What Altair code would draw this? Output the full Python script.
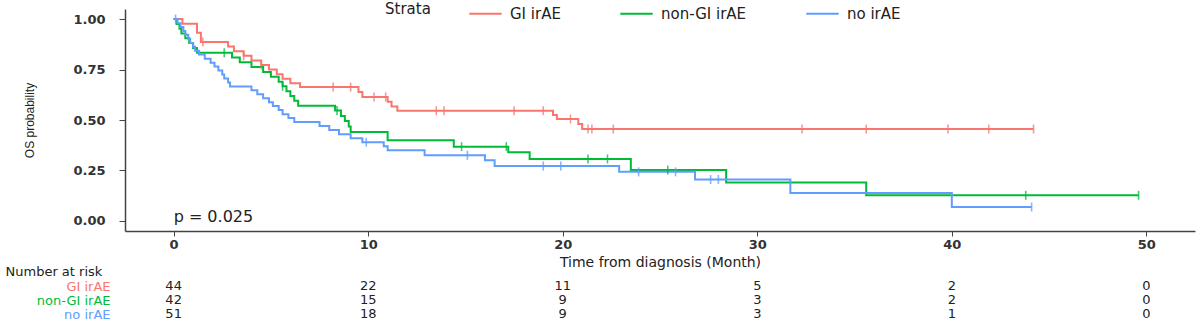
import altair as alt
import pandas as pd

strata = ["GI irAE", "non-GI irAE", "no irAE"]
colors = ["#F8766D", "#00BA38", "#619CFF"]

# Step curves (time in months, survival after that time)
gi_t = [0, 0.45, 1.2, 1.4, 2.8, 3.1, 3.6, 4.0, 4.5, 4.9, 5.3, 5.6, 6.0, 6.5, 9.5, 9.7,
        11.0, 11.2, 11.5, 19.5, 19.7, 20.8, 21.0, 44.2]
gi_s = [1.0, 0.977, 0.932, 0.886, 0.864, 0.841, 0.818, 0.795, 0.773, 0.75, 0.727, 0.705,
        0.682, 0.663, 0.639, 0.614, 0.59, 0.567, 0.546, 0.525, 0.505, 0.48, 0.455, 0.455]
gi_cens = [1.5, 3.6, 4.5, 8.2, 9.1, 10.3, 10.9, 13.5, 13.9, 17.5, 19.0, 20.4, 21.3, 21.5,
           22.6, 32.3, 35.6, 39.8, 41.9, 44.2]

non_t = [0, 0.15, 0.3, 0.4, 0.6, 0.8, 1.0, 1.2, 3.0, 3.4, 4.0, 4.6, 5.0, 5.4, 5.6, 5.8,
         6.0, 6.2, 6.4, 8.3, 8.6, 8.8, 9.0, 9.1, 11.0, 14.4, 17.2, 18.3, 23.5, 28.4, 35.6, 49.6]
non_s = [1.0, 0.976, 0.952, 0.929, 0.905, 0.881, 0.857, 0.833, 0.81, 0.786, 0.762, 0.738,
         0.714, 0.69, 0.667, 0.643, 0.619, 0.595, 0.571, 0.547, 0.52, 0.495, 0.468, 0.44,
         0.40, 0.368, 0.34, 0.307, 0.252, 0.19, 0.127, 0.127]
non_cens = [2.6, 5.6, 8.4, 14.8, 17.1, 21.3, 22.3, 25.4, 43.8, 49.6]

no_t = [0, 0.2, 0.35, 0.5, 0.6, 0.75, 0.85, 1.0, 1.1, 1.3, 1.6, 1.9, 2.1, 2.3, 2.5, 2.6,
        2.8, 2.9, 4.0, 4.3, 4.6, 4.9, 5.1, 5.4, 5.6, 5.9, 6.2, 7.5, 8.0, 8.5, 9.1, 9.7,
        10.8, 11.0, 12.9, 16.0, 16.5, 22.9, 26.8, 31.7, 40.0, 44.1]
no_s = [1.0, 0.98, 0.961, 0.941, 0.922, 0.902, 0.882, 0.863, 0.843, 0.824, 0.804, 0.784,
        0.765, 0.745, 0.725, 0.706, 0.686, 0.666, 0.647, 0.627, 0.608, 0.588, 0.569, 0.549,
        0.529, 0.51, 0.49, 0.47, 0.45, 0.43, 0.41, 0.39, 0.37, 0.35, 0.325, 0.30, 0.272,
        0.243, 0.205, 0.138, 0.069, 0.069]
no_cens = [0.1, 9.9, 15.1, 19.0, 19.9, 23.9, 25.8, 27.6, 28.0, 44.1]

risk_times = [0, 10, 20, 30, 40, 50]
risk_gi = [44, 22, 11, 5, 2, 0]
risk_non = [42, 15, 9, 3, 2, 0]
risk_no = [51, 18, 9, 3, 1, 0]

curves = [(gi_t, gi_s, gi_cens, risk_gi), (non_t, non_s, non_cens, risk_non),
          (no_t, no_s, no_cens, risk_no)]

def surv_at(ts, ss, t):
    s = ss[0]
    for ti, si in zip(ts, ss):
        if ti <= t:
            s = si
    return s

line_rows, cens_rows, risk_rows = [], [], []
for name, (ts, ss, cs, rk) in zip(strata, curves):
    for t, s in zip(ts, ss):
        line_rows.append({"time": t, "surv": s, "strata": name})
    for c in cs:
        cens_rows.append({"time": c, "surv": surv_at(ts, ss, c), "strata": name})
    for t, n in zip(risk_times, rk):
        risk_rows.append({"time": t, "n": str(n), "strata": name})

lines_df = pd.DataFrame(line_rows)
cens_df = pd.DataFrame(cens_rows)
risk_df = pd.DataFrame(risk_rows)

FONT = "DejaVu Sans"
xscale = alt.Scale(domain=[-2.5, 52.5], nice=False, zero=False)
yscale = alt.Scale(domain=[-0.05, 1.05], nice=False, zero=False)
cscale = alt.Scale(domain=strata, range=colors)

x_enc = alt.X("time:Q", scale=xscale,
              axis=alt.Axis(values=risk_times, format="d", title="Time from diagnosis (Month)",
                            titlePadding=4))
y_enc = alt.Y("surv:Q", scale=yscale,
              axis=alt.Axis(values=[0, 0.25, 0.5, 0.75, 1.0], format=".2f", title="OS probability",
                            titleFont="Liberation Sans", titleFontSize=12, titleFontWeight="normal",
                            titleBaseline="middle", titleX=-96, titleY=111))

legend = alt.Legend(orient="none", legendX=260, legendY=-13, direction="horizontal",
                    title="Strata", titleOrient="left", titlePadding=37,
                    symbolType="stroke", symbolSize=1050, symbolStrokeWidth=2,
                    labelFont=FONT, labelFontSize=15, titleFont=FONT, titleFontSize=15,
                    titleFontWeight="normal", labelColor="#222", titleColor="#222",
                    columnPadding=55, labelOffset=7)

lines = alt.Chart(lines_df).mark_line(interpolate="step-after", strokeWidth=2).encode(
    x=x_enc, y=y_enc,
    color=alt.Color("strata:N", scale=cscale, legend=legend, sort=strata),
    order="time:Q",
)

cens = alt.Chart(cens_df).mark_tick(orient="vertical", size=9, thickness=1.6, opacity=0.75).encode(
    x="time:Q", y="surv:Q",
    color=alt.Color("strata:N", scale=cscale, legend=None),
)

pval = alt.Chart(pd.DataFrame({"label": ["p = 0.025"]})).mark_text(
    align="left", baseline="middle", font=FONT, fontSize=16, color="#222"
).encode(x=alt.datum(0), y=alt.datum(0.02), text="label:N")

main = alt.layer(lines, cens, pval)

risk = alt.Chart(risk_df).mark_text(font=FONT, fontSize=13, color="#222", baseline="middle").encode(
    x="time:Q",
    y=alt.Y("strata:N", scale=alt.Scale(domain=strata, range=[277, 305], padding=0),
            axis=alt.Axis(orient="left", domain=False, ticks=False, labelPadding=15,
                          labelFont=FONT, labelFontSize=13, labelFontWeight="normal",
                          labelColor={"expr": "datum.value == 'GI irAE' ? '#F8766D' : datum.value == 'non-GI irAE' ? '#00BA38' : '#619CFF'"},
                          title="Number at risk", titleAngle=0, titleAlign="left",
                          titleBaseline="middle", titleX=-120, titleY=262,
                          titleFont=FONT, titleFontSize=13, titleFontWeight="normal",
                          titleColor="#222")),
    text="n:N",
)

chart = alt.layer(main, risk).resolve_scale(y="independent").properties(
    width=1070, height=222,
    autosize=alt.AutoSizeParams(type="none"),
    padding={"left": 125, "top": 9, "right": 5, "bottom": 91},
).configure_view(stroke=None).configure_axis(
    grid=False, domainColor="#444", domainWidth=1.5, tickColor="#444", tickSize=5,
    labelFont=FONT, labelFontSize=13, labelFontWeight="bold", labelColor="#333",
    titleFont=FONT, titleFontSize=14, titleFontWeight="normal", titleColor="#222",
).configure_axisY(labelPadding=14, tickSize=6).configure_axisX(labelPadding=2)

chart.save("out.html", embed_options={"renderer": "svg", "actions": False})
